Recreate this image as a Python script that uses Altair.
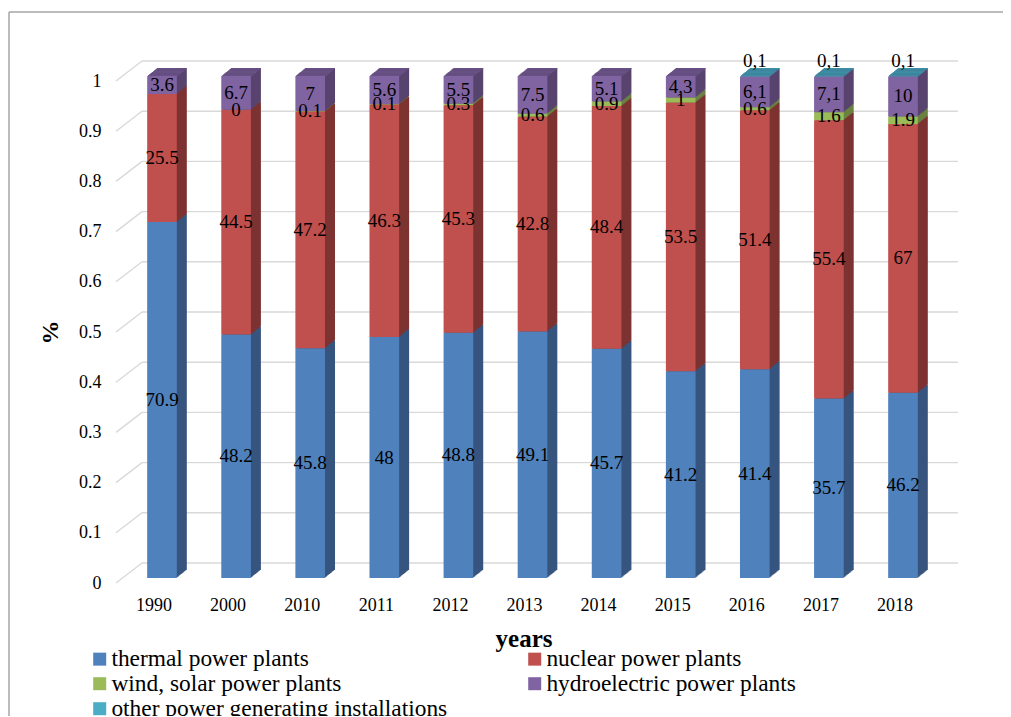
import altair as alt
import pandas as pd

# ---------------- data ----------------
years = ["1990", "2000", "2010", "2011", "2012", "2013", "2014", "2015", "2016", "2017", "2018"]
series = ["thermal power plants", "nuclear power plants", "wind, solar power plants",
          "hydroelectric power plants", "other power generating installations"]

thermal = [70.9, 48.2, 45.8, 48, 48.8, 49.1, 45.7, 41.2, 41.4, 35.7, 46.2]
nuclear = [25.5, 44.5, 47.2, 46.3, 45.3, 42.8, 48.4, 53.5, 51.4, 55.4, 67]
wind = [None, 0, 0.1, 0.1, 0.3, 0.6, 0.9, 1, 0.6, 1.6, 1.9]
hydro = [3.6, 6.7, 7, 5.6, 5.5, 7.5, 5.1, 4.3, 6.1, 7.1, 10]
other = [None, None, None, None, None, None, None, None, 0.1, 0.1, 0.1]

thermal_labels = ["70.9", "48.2", "45.8", "48", "48.8", "49.1", "45.7", "41.2", "41.4", "35.7", "46.2"]
nuclear_labels = ["25.5", "44.5", "47.2", "46.3", "45.3", "42.8", "48.4", "53.5", "51.4", "55.4", "67"]
wind_labels = ["", "0", "0.1", "0.1", "0.3", "0.6", "0.9", "1", "0.6", "1.6", "1.9"]
hydro_labels = ["3.6", "6.7", "7", "5.6", "5.5", "7.5", "5.1", "4.3", "6,1", "7,1", "10"]
other_labels = ["", "", "", "", "", "", "", "", "0,1", "0,1", "0,1"]

y_ticks = [0, 0.1, 0.2, 0.3, 0.4, 0.5, 0.6, 0.7, 0.8, 0.9, 1]

front_colors = ["#4F81BD", "#C0504D", "#9BBB59", "#8064A2", "#4BACC6"]
side_colors = ["#36557F", "#7D3331", "#6A8240", "#58446F", "#327587"]
top_colors = ["#466FA3", "#A44341", "#86A24C", "#6C548A", "#3F94AB"]

# ---------------- table ----------------
values = [thermal, nuclear, wind, hydro, other]
labels = [thermal_labels, nuclear_labels, wind_labels, hydro_labels, other_labels]
rows = []
for i, yr in enumerate(years):
    total = sum(v[i] for v in values if v[i] is not None)
    cum = 0.0
    yr_rows = []
    for k, s in enumerate(series):
        v = values[k][i]
        if v is None:
            continue
        y0 = cum / total
        y1 = (cum + v) / total
        cum += v
        yr_rows.append(dict(year=yr, series=s, value=v, y0=y0, y1=y1,
                            center=(y0 + y1) / 2, label=labels[k][i],
                            side=side_colors[k], topc=top_colors[k], top=False))
    nz = [r for r in yr_rows if r["value"] > 0]
    nz[-1]["top"] = True
    rows.extend(yr_rows)
df = pd.DataFrame(rows)
df_top = df[df["top"]]
df_lab = df[df["series"] != series[4]]
df_other = df[df["series"] == series[4]]
grid = pd.DataFrame({"v": y_ticks})
one = pd.DataFrame({"k": [0]})

W, H = 842, 502
FONT = "Liberation Serif"

xscale = alt.Scale(domain=years, range=[8.95, 824.05], paddingInner=0.6, paddingOuter=0.3)
yscale = alt.Scale(domain=[0, 1], nice=False, zero=False)

x_axis = alt.Axis(title="years", labelAngle=0, labelOffset=-8)
y_axis = alt.Axis(title="%", values=y_ticks, format=".1~f")

def X():
    return alt.X("year:N", scale=xscale, axis=x_axis, sort=years)

def Y(field, **kw):
    return alt.Y(field, scale=yscale, axis=y_axis, **kw)

# frame lines
frame_left = alt.Chart(one).mark_rule(color="#A6A6A6", strokeWidth=1.5).encode(
    x=alt.value(-107), y=alt.value(-69), y2=alt.value(720))
frame_top = alt.Chart(one).mark_rule(color="#A6A6A6", strokeWidth=1.5).encode(
    x=alt.value(-107), x2=alt.value(900), y=alt.value(-69))

# gridlines: diagonal wall edge + back wall
diag = alt.Chart(grid).mark_rule(color="#D9D9D9", strokeWidth=1.4, y2Offset=-20).encode(
    x=alt.value(0), x2=alt.value(26), y=Y("v:Q"), y2=alt.Y2("v"))
back = alt.Chart(grid).mark_rule(color="#D9D9D9", strokeWidth=1.4, yOffset=-20).encode(
    x=alt.value(26), x2=alt.value(W), y=Y("v:Q"))

# 3D extrusion: side faces and top faces, drawn from deepest to nearest
layers3d = []
for i in range(10, 0, -1):
    dy = -5 - 0.8 * i
    side = alt.Chart(df).mark_bar(xOffset=i, x2Offset=i, yOffset=dy, y2Offset=dy).encode(
        x=X(), y=Y("y1:Q", stack=None), y2=alt.Y2("y0"),
        color=alt.Color("side:N", scale=None))
    topf = alt.Chart(df_top).mark_bar(xOffset=i, x2Offset=i, yOffset=dy, y2Offset=dy + 1).encode(
        x=X(), y=Y("y1:Q", stack=None), y2=alt.Y2("y1"),
        color=alt.Color("topc:N", scale=None))
    layers3d += [side, topf]

fronts = alt.Chart(df).mark_bar(yOffset=-5, y2Offset=-5).encode(
    x=X(), y=Y("y1:Q", stack=None), y2=alt.Y2("y0"),
    color=alt.Color("series:N", scale=alt.Scale(domain=series, range=front_colors),
                    legend=alt.Legend(title=None, orient="none", legendX=-28, legendY=566,
                                      direction="horizontal", columns=2, columnPadding=75,
                                      rowPadding=0, padding=0,
                                      symbolType="square", symbolSize=169, symbolStrokeWidth=0,
                                      labelFont=FONT, labelFontSize=23.4, labelColor="black",
                                      labelLimit=600, labelOffset=0)))

text_main = alt.Chart(df_lab).mark_text(font=FONT, fontSize=19, color="black", yOffset=-5,
                                        baseline="middle", align="center").encode(
    x=X(), y=Y("center:Q"), text="label:N")
text_other = alt.Chart(df_other).mark_text(font=FONT, fontSize=19, color="black", yOffset=-20,
                                           baseline="middle", align="center").encode(
    x=X(), y=Y("center:Q"), text="label:N")

chart = alt.layer(frame_left, frame_top, diag, back, *layers3d, fronts, text_main, text_other).properties(
    width=W, height=H,
    background="white",
    autosize=alt.AutoSizeParams(type="none"),
    padding={"left": 108, "top": 73, "right": 45, "bottom": 133},
).configure_view(
    strokeWidth=0
).configure_axis(
    grid=False, domain=False, ticks=False,
    labelFont=FONT, labelColor="black", titleFont=FONT, titleColor="black",
    titleFontWeight="bold",
).configure_axisX(
    labelFontSize=18, labelPadding=13, titleFontSize=25,
    titleX=407.5, titleY=63, titleAlign="center", titleBaseline="alphabetic",
).configure_axisY(
    labelFontSize=18, labelPadding=15, titleFontSize=24,
    titleX=-66, titleY=251, titleAngle=270, titleAlign="center", titleBaseline="middle",
)

chart.save("out.html", embed_options={"renderer": "svg", "actions": False})
